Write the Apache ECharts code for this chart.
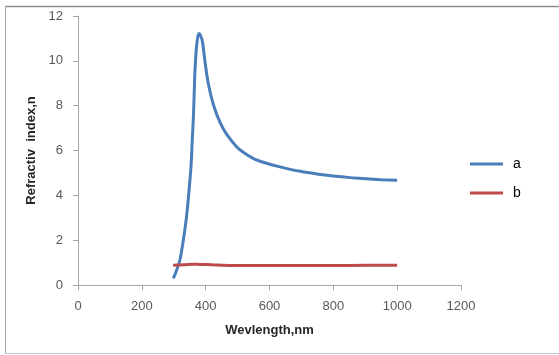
<!DOCTYPE html>
<html><head><meta charset="utf-8">
<script src="https://cdn.jsdelivr.net/npm/echarts@6/dist/echarts.min.js"></script>
<style>html,body{margin:0;padding:0;background:#fff}#c{width:559px;height:355px}</style>
</head><body><div id="c"></div>
<script>
const wavelengthA = [298, 303, 319, 330, 340, 347, 354, 358, 362, 366, 370, 374, 377, 380, 385, 390, 398, 408, 424, 445, 466, 497, 518, 550, 591, 633, 696, 753, 800, 853, 905, 950, 1000];
const valuesA =     [0.3, 0.43, 1.1, 2.0, 3.04, 4.08, 5.27, 6.46, 7.65, 9.4, 10.4, 10.95, 11.17, 11.22, 11.1, 10.85, 9.95, 9.0, 8.05, 7.25, 6.72, 6.17, 5.92, 5.64, 5.43, 5.27, 5.07, 4.94, 4.86, 4.79, 4.74, 4.7, 4.67];
const wavelengthB = [298, 330, 360, 380, 420, 500, 600, 700, 800, 900, 1000];
const valuesB =     [0.88, 0.9, 0.93, 0.92, 0.9, 0.87, 0.87, 0.87, 0.87, 0.88, 0.88];
const xTicks = [0, 200, 400, 600, 800, 1000, 1200];
const yTicks = [0, 2, 4, 6, 8, 10, 12];

const chart = echarts.init(document.getElementById('c'));
const font = 'Liberation Sans, Arial, sans-serif';
chart.setOption({
  animation: false,
  graphic: [
    {type: 'line', shape: {x1: 5, y1: 6.5, x2: 559, y2: 6.5}, style: {stroke: '#8c8c8c', lineWidth: 1.5}},
    {type: 'line', shape: {x1: 5.5, y1: 6, x2: 5.5, y2: 353.5}, style: {stroke: '#a6a6a6', lineWidth: 1}},
    {type: 'line', shape: {x1: 5, y1: 353.5, x2: 559, y2: 353.5}, style: {stroke: '#c8c8c8', lineWidth: 1}}
  ],
  grid: {left: 78, right: 98, top: 16, bottom: 70, containLabel: false},
  legend: {
    orient: 'vertical', left: 470, top: 157, padding: 0, itemWidth: 33, itemHeight: 3, itemGap: 15,
    textStyle: {fontFamily: font, fontSize: 14, color: '#000', padding: [0, 0, 0, 5]},
    data: [{name: 'a', icon: 'rect'}, {name: 'b', icon: 'rect'}]
  },
  xAxis: {
    type: 'value', min: xTicks[0], max: xTicks[xTicks.length - 1], interval: 200,
    name: 'Wevlength,nm', nameLocation: 'middle', nameGap: 39,
    nameTextStyle: {fontFamily: font, fontSize: 13, fontWeight: 'bold', color: '#262626'},
    axisLine: {onZero: false, lineStyle: {color: '#a6a6a6', width: 1}},
    axisTick: {show: true, length: 5, lineStyle: {color: '#a6a6a6'}},
    axisLabel: {fontFamily: font, fontSize: 13, color: '#595959', margin: 15, formatter: v => String(v)},
    splitLine: {show: false}
  },
  yAxis: {
    type: 'value', min: yTicks[0], max: yTicks[yTicks.length - 1], interval: 2,
    name: 'Refractiv  index,n', nameLocation: 'middle', nameGap: 36,
    nameTextStyle: {fontFamily: font, fontSize: 13, fontWeight: 'bold', color: '#262626'},
    axisLine: {show: true, lineStyle: {color: '#a6a6a6', width: 1}},
    axisTick: {show: true, length: 5, lineStyle: {color: '#a6a6a6'}},
    axisLabel: {fontFamily: font, fontSize: 13, color: '#595959', margin: 15},
    splitLine: {show: false}
  },
  series: [
    {name: 'a', type: 'line', smooth: 0.3, symbol: 'none',
     lineStyle: {color: '#4a7ebb', width: 3}, itemStyle: {color: '#4a7ebb'},
     data: wavelengthA.map((x, i) => [x, valuesA[i]])},
    {name: 'b', type: 'line', smooth: 0.5, symbol: 'none',
     lineStyle: {color: '#be4b48', width: 3}, itemStyle: {color: '#be4b48'},
     data: wavelengthB.map((x, i) => [x, valuesB[i]])}
  ]
});
</script></body></html>
